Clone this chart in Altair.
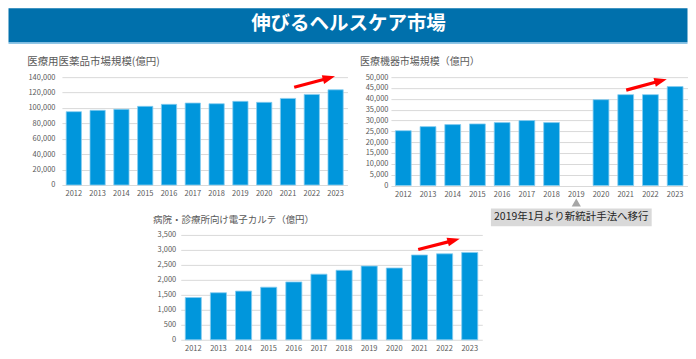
import altair as alt
import pandas as pd

FONT = "Noto Sans CJK JP"
GRAY = "#595959"
GRID = "#D9D9D9"
BAR = "#0096DC"
BAR_EDGE = "#86CDF0"
RED = "#FF0000"
TITLE_BLUE = "#0070AC"
TITLE_EDGE = "#6BB3DE"
HEAD_PATH = "M1,0 L-0.25,-0.45 L-0.25,0.45 Z"

main_title = ["伸びるヘルスケア市場"]
years = ["2012", "2013", "2014", "2015", "2016", "2017",
         "2018", "2019", "2020", "2021", "2022", "2023"]
pharma = [95200, 96900, 98200, 102100, 104700, 106400,
          105500, 108600, 107300, 112400, 117600, 123600]
devices = [25300, 27170, 28100, 28420, 29040, 29970,
           29040, None, 39600, 41930, 41930, 45650]
emr = [1410, 1570, 1625, 1755, 1930, 2190,
       2320, 2460, 2395, 2830, 2870, 2915]
titles = ["医療用医薬品市場規模(億円)", "医療機器市場規模（億円）", "病院・診療所向け電子カルテ（億円）"]
note = ["2019年1月より新統計手法へ移行"]
note_year = ["2019"]

# trend arrows, in bar-index / value units
pharma_arrow_x = [9.26, 10.57]
pharma_arrow_y = [126800, 137700]
devices_arrow_x = [9.02, 10.27]
devices_arrow_y = [44000, 47850]
emr_arrow_x = [8.95, 10.22]
emr_arrow_y = [3012, 3285]

LEFT_AXIS = 53.5


def panel(values, title, title_size, title_dx, title_offset, ymax, ystep,
          width, height, min_extent, ypad, arrow_x, arrow_y, extra=()):
    df = pd.DataFrame({"year": years, "value": values})
    xscale = alt.Scale(domain=years, paddingInner=0.36, paddingOuter=0.18)
    yscale = alt.Scale(domain=[0, ymax], nice=False)
    bars = alt.Chart(df).mark_bar(color=BAR, stroke=BAR_EDGE, strokeWidth=0.8).encode(
        x=alt.X("year:N", scale=xscale,
                axis=alt.Axis(title=None, labelAngle=0, ticks=False, tickSize=0,
                              domain=False, grid=False, labelFontSize=7.5,
                              labelPadding=5, labelOverlap=False)),
        y=alt.Y("value:Q", scale=yscale,
                axis=alt.Axis(title=None, values=list(range(0, ymax + 1, ystep)),
                              format=",.0f", ticks=False, tickSize=0, domain=False,
                              grid=True, gridColor=GRID, gridWidth=1,
                              labelFontSize=7.5, labelPadding=ypad,
                              minExtent=min_extent, maxExtent=min_extent,
                              labelOverlap=False)),
    )
    if extra:
        main = alt.layer(bars, *[e(xscale) for e in extra]).resolve_axis(x="independent")
    else:
        main = bars
    adf = pd.DataFrame({"x0": [arrow_x[0]], "x1": [arrow_x[1]],
                        "y0": [arrow_y[0]], "y1": [arrow_y[1]]})
    ax = alt.Scale(domain=[-0.5, 11.5], nice=False, zero=False)
    shaft = alt.Chart(adf).mark_rule(color=RED, strokeWidth=3.2).encode(
        x=alt.X("x0:Q", scale=ax, axis=None), x2="x1:Q",
        y=alt.Y("y0:Q", scale=yscale, axis=None), y2="y1:Q")
    head = alt.Chart(adf).mark_point(shape=HEAD_PATH, filled=True, color=RED,
                                     opacity=1, size=400, angle=345, strokeWidth=0).encode(
        x=alt.X("x1:Q", scale=ax, axis=None),
        y=alt.Y("y1:Q", scale=yscale, axis=None))
    arrow = alt.layer(shaft, head)
    return alt.layer(main, arrow).resolve_scale(x="independent").resolve_axis(
        y="independent").properties(
        width=width, height=height,
        title=alt.TitleParams(text=title, anchor="start", frame="group", dx=title_dx,
                              fontSize=title_size, fontWeight="normal", color=GRAY,
                              font=FONT, offset=title_offset))


ndf = pd.DataFrame({"year": note_year, "note": note})


def tri(xscale):
    return alt.Chart(ndf).mark_point(shape="triangle-up", filled=True, color="#A6A6A6",
                                     size=85, opacity=1, strokeWidth=0).encode(
        x=alt.X("year:N", scale=xscale, axis=None), y=alt.value(125.5))


def box(xscale):
    return alt.Chart(ndf).mark_bar(width=161, color="#D9D9D9", xOffset=-5).encode(
        x=alt.X("year:N", scale=xscale, axis=None),
        y=alt.value(131.5), y2=alt.value(149.2))


def txt(xscale):
    return alt.Chart(ndf).mark_text(font=FONT, fontSize=10.5, color="#262626", dx=-5).encode(
        x=alt.X("year:N", scale=xscale, axis=None), y=alt.value(140.4), text="note:N")


left = panel(pharma, titles[0], 10.5, -34.8, 6, 140000, 20000,
             286, 108, LEFT_AXIS, 7, pharma_arrow_x, pharma_arrow_y)
right = panel(devices, titles[1], 10, -31, 6, 50000, 5000,
              297, 108.5, 33, 3, devices_arrow_x, devices_arrow_y, extra=(tri, box, txt))
bottom = panel(emr, titles[2], 9.5, -27.7, 6, 3500, 500,
               302, 105, 30, 5, emr_arrow_x, emr_arrow_y)

spacer = alt.Chart(pd.DataFrame({"s": [0]})).mark_point(opacity=0).encode(
    x=alt.value(0), y=alt.value(0)).properties(width=88.9, height=10)

tdf = pd.DataFrame({"t": main_title})
banner = alt.Chart(tdf).mark_rect(color=TITLE_BLUE).encode(
    x=alt.value(-LEFT_AXIS), x2=alt.value(680 - LEFT_AXIS),
    y=alt.value(0), y2=alt.value(34))
banner_edge = alt.Chart(tdf).mark_rect(color=TITLE_EDGE).encode(
    x=alt.value(-LEFT_AXIS), x2=alt.value(680 - LEFT_AXIS),
    y=alt.value(34), y2=alt.value(35.5))
banner_text = alt.Chart(tdf).mark_text(
    font=FONT, fontSize=19.5, fontWeight="bold", color="white").encode(
    text="t:N", x=alt.value(340.5 - LEFT_AXIS), y=alt.value(15.5))
title_bar = alt.layer(banner, banner_edge, banner_text).properties(
    width=680 - LEFT_AXIS, height=34)

row2 = alt.hconcat(left, right, spacing=10.5)
row3 = alt.hconcat(spacer, bottom, spacing=0)
lower = alt.vconcat(row2, row3, spacing=-12)
chart = alt.vconcat(title_bar, lower, spacing=12).properties(padding=0).configure_view(
    stroke=None).configure_axis(labelFont=FONT, labelColor=GRAY)

chart.save("out.html", embed_options={"renderer": "svg", "actions": False})
